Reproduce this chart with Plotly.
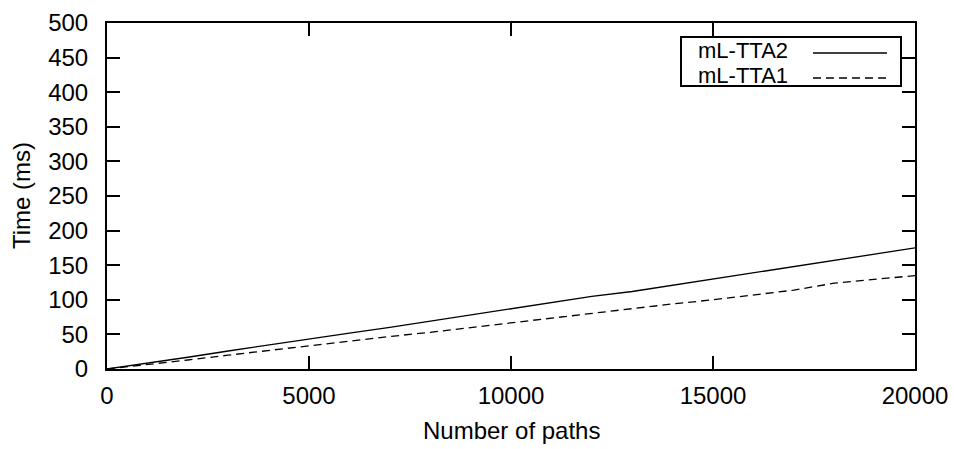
import plotly.graph_objects as go

paths = [0, 1000, 2000, 3000, 4000, 5000, 6000, 7000, 8000, 9000, 10000,
         11000, 12000, 13000, 14000, 15000, 16000, 17000, 18000, 19000, 20000]
tta2 = [0, 8, 17, 26, 35, 43, 52, 60, 69, 77, 86,
        95, 105, 112, 121, 130, 138, 147, 157, 166, 175]
tta1 = [0, 6, 13, 20, 27, 33, 40, 47, 53, 60, 67,
        74, 81, 88, 94, 100, 107, 114, 124, 129, 135]
series_names = ["mL-TTA2", "mL-TTA1"]
x_ticks = [0, 5000, 10000, 15000, 20000]
y_ticks = list(range(0, 501, 50))

FONT = "Liberation Sans, Arial, sans-serif"
FS = 24
LEG_FS = 22
DASH = "8px,5px"

fig = go.Figure()
fig.add_trace(go.Scatter(x=paths, y=tta2, mode="lines", name=series_names[0],
                         line=dict(color="black", width=1.3), showlegend=False))
fig.add_trace(go.Scatter(x=paths, y=tta1, mode="lines", name=series_names[1],
                         line=dict(color="black", width=1.3, dash=DASH), showlegend=False))

axis_common = dict(showgrid=False, zeroline=False, showline=True, linecolor="black",
                   linewidth=2, mirror="allticks", ticks="inside", ticklen=13,
                   tickwidth=1.5, tickcolor="black", automargin=False,
                   tickfont=dict(family=FONT, size=FS, color="black"))

fig.update_xaxes(range=[0, 20000], tickvals=x_ticks, ticktext=[str(v) for v in x_ticks],
                 ticklabelstandoff=4, **axis_common)
fig.update_yaxes(range=[0, 500], tickvals=y_ticks, ticktext=[str(v) for v in y_ticks],
                 ticklabelstandoff=12, **axis_common)

W, H = 954, 449
ml, mr, mt, mb = 107, 39, 23, 80
pw, ph = W - ml - mr, H - mt - mb
def px(x): return (x - ml) / pw
def py(y): return 1 - (y - mt) / ph

# axis titles placed as annotations for exact positioning
fig.add_annotation(xref="paper", yref="paper", x=px(511), y=py(430), text="Number of paths",
                   showarrow=False, xanchor="center", yanchor="middle",
                   font=dict(family=FONT, size=FS, color="black"))
fig.add_annotation(xref="paper", yref="paper", x=px(21), y=py(196), text="Time (ms)",
                   showarrow=False, xanchor="center", yanchor="middle", textangle=-90,
                   font=dict(family=FONT, size=FS, color="black"))

# gnuplot-style legend (text left, sample right) in a box
fig.add_shape(type="rect", xref="paper", yref="paper",
              x0=px(681), x1=px(901), y0=py(86), y1=py(37),
              line=dict(color="black", width=2), fillcolor="white", layer="above")
rows = [51, 76]
dashes = ["solid", DASH]
for name, yy, d in zip(series_names, rows, dashes):
    fig.add_annotation(xref="paper", yref="paper", x=px(696), y=py(yy), text=name,
                       showarrow=False, xanchor="left", yanchor="middle",
                       font=dict(family=FONT, size=LEG_FS, color="black"))
    fig.add_shape(type="line", xref="paper", yref="paper",
                  x0=px(813), x1=px(887), y0=py(yy + 2), y1=py(yy + 2),
                  line=dict(color="black", width=1.3, dash=d), layer="above")

fig.update_layout(width=W, height=H,
                  margin=dict(l=ml, r=mr, t=mt, b=mb, autoexpand=False),
                  plot_bgcolor="white", paper_bgcolor="white",
                  font=dict(family=FONT, size=FS, color="black"))

fig.write_html("out.html")
